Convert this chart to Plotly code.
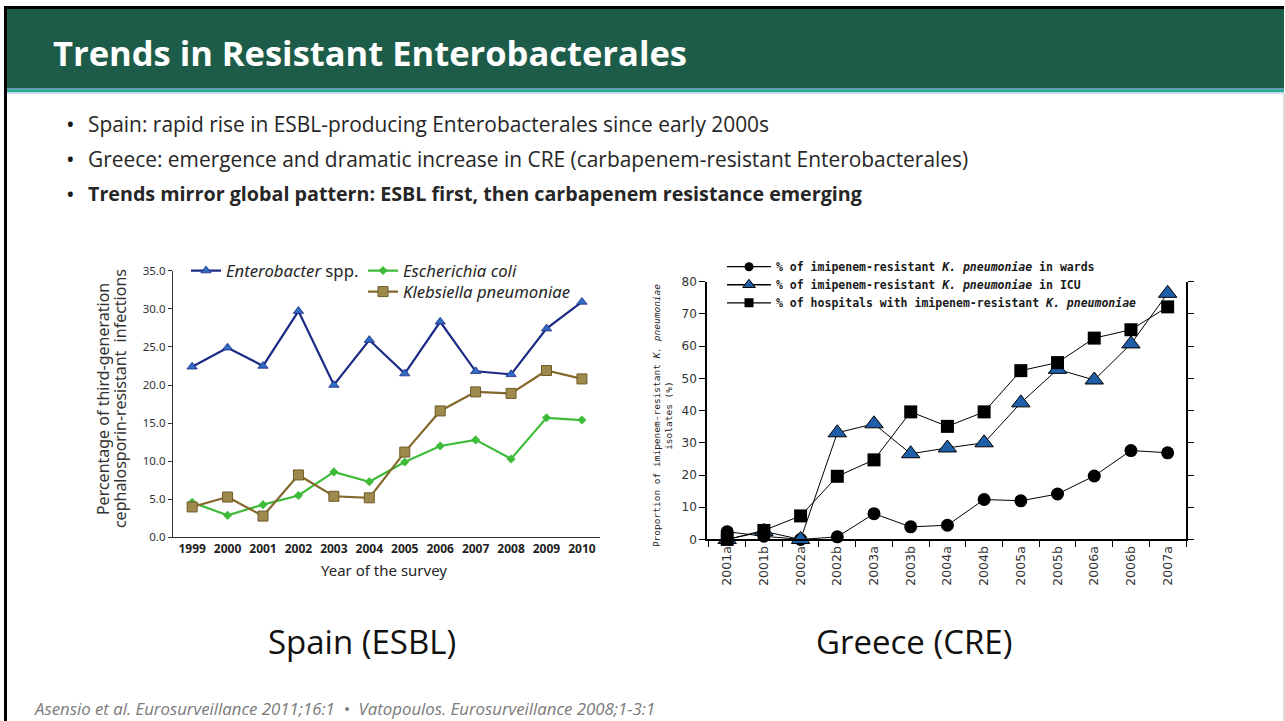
import plotly.graph_objects as go

# ---------------- data ----------------
years = [1999, 2000, 2001, 2002, 2003, 2004, 2005, 2006, 2007, 2008, 2009, 2010]
enterobacter = [22.4, 24.9, 22.5, 29.7, 20.0, 25.9, 21.5, 28.3, 21.8, 21.4, 27.4, 30.9]
ecoli = [4.6, 2.9, 4.3, 5.5, 8.6, 7.3, 9.9, 12.0, 12.8, 10.3, 15.7, 15.4]
klebsiella = [4.0, 5.3, 2.8, 8.2, 5.4, 5.2, 11.2, 16.6, 19.1, 18.9, 21.9, 20.8]

periods = ["2001a", "2001b", "2002a", "2002b", "2003a", "2003b", "2004a",
           "2004b", "2005a", "2005b", "2006a", "2006b", "2007a"]
wards = [2.4, 1.0, 0.0, 0.8, 8.0, 3.9, 4.4, 12.4, 12.0, 14.1, 19.7, 27.6, 26.9]
icu = [0.0, 2.5, 0.0, 33.1, 35.9, 26.6, 28.4, 30.0, 42.4, 52.8, 49.5, 60.7, 76.4]
hospitals = [0.0, 2.8, 7.3, 19.6, 24.7, 39.6, 35.1, 39.6, 52.4, 54.9, 62.5, 65.1, 72.2]

left_yticks = [0, 5, 10, 15, 20, 25, 30, 35]
right_yticks = [0, 10, 20, 30, 40, 50, 60, 70, 80]

bullets = [
    ("Spain: rapid rise in ESBL-producing Enterobacterales since early 2000s", False),
    ("Greece: emergence and dramatic increase in CRE (carbapenem-resistant Enterobacterales)", False),
    ("Trends mirror global pattern: ESBL first, then carbapenem resistance emerging", True),
]

W, H = 1285, 737
def px(x):
    return x / W
def py(y):
    # target screen row -> paper fraction (the viewer shows the page offset/squeezed vertically)
    yy = (y - 8) / 0.977
    return 1 - yy / H

left_font = "Noto Sans"
mono = "DejaVu Sans Mono"
slide_font = "Open Sans"

fig = go.Figure()

# ---------------- left chart (Spain) ----------------
left_series = [
    ("<i>Enterobacter</i> spp.", enterobacter, dict(color="#1c2a85", width=2.2),
     dict(symbol="triangle-up", size=9, color="#2f6cc2", line=dict(color="#1c2a85", width=0.8)), "legend", 270),
    ("<i>Escherichia coli</i>", ecoli, dict(color="#3fbb3a", width=2.2),
     dict(symbol="diamond", size=7, color="#3fbb3a"), "legend2", 270),
    ("<i>Klebsiella pneumoniae</i>", klebsiella, dict(color="#85692c", width=2.2),
     dict(symbol="square", size=10, color="#9e8a4c", line=dict(color="#6e5a28", width=1)), "legend3", 291),
]
for name, vals, ln, mk, lg, _ in left_series:
    fig.add_trace(go.Scatter(x=years, y=vals, name=name, mode="lines+markers", line=ln, marker=mk,
                             xaxis="x", yaxis="y", legend=lg, cliponaxis=False))

# ---------------- right chart (Greece) ----------------
right_series = [
    ("% of imipenem-resistant <i>K. pneumoniae</i> in wards", wards,
     dict(symbol="circle", size=13, color="black"), dict(symbol="circle", size=9, color="black"),
     "legend4", 266),
    ("% of imipenem-resistant <i>K. pneumoniae</i> in ICU", icu,
     dict(symbol="triangle-up", size=16, color="#1f5ea8", line=dict(color="black", width=1)),
     dict(symbol="triangle-up", size=11, color="#1f5ea8", line=dict(color="black", width=1)),
     "legend5", 284),
    ("% of hospitals with imipenem-resistant <i>K. pneumoniae</i>", hospitals,
     dict(symbol="square", size=13, color="black"), dict(symbol="square", size=9, color="black"),
     "legend6", 302),
]
for name, vals, mk, lgmk, lg, _ in right_series:
    fig.add_trace(go.Scatter(x=periods, y=vals, name=name, mode="lines+markers",
                             line=dict(color="black", width=1), marker=mk,
                             xaxis="x2", yaxis="y2", showlegend=False, cliponaxis=False))
    # legend entry with the smaller legend symbol (no data drawn)
    fig.add_trace(go.Scatter(x=[None], y=[None], name=name, mode="lines+markers",
                             line=dict(color="black", width=1.3), marker=lgmk,
                             xaxis="x2", yaxis="y2", legend=lg, showlegend=True))

legends = {}
for name, vals, ln, mk, lg, yrow in left_series:
    lx = 186 if lg == "legend" else 363
    legends[lg] = dict(x=px(lx), y=py(yrow), xanchor="left", yanchor="middle",
                       bgcolor="rgba(0,0,0,0)", itemwidth=30,
                       font=dict(family=left_font, size=16.7, color="#262626"))
for name, vals, mk, lgmk, lg, yrow in right_series:
    legends[lg] = dict(x=px(722), y=py(yrow), xanchor="left", yanchor="middle",
                       bgcolor="rgba(0,0,0,0)", itemwidth=44,
                       font=dict(family=mono, size=11.5, color="#1a1a1a", weight="bold"))

fig.update_layout(
    width=W, height=H, margin=dict(l=0, r=0, t=0, b=0),
    paper_bgcolor="white", plot_bgcolor="rgba(0,0,0,0)",
    font=dict(family=slide_font, color="#262626"),
    xaxis=dict(domain=[px(173), px(600)], anchor="y", range=[1998.46, 2010.51],
               tickmode="array", tickvals=years, ticks="", showgrid=False, zeroline=False,
               showline=True, linecolor="#333333", linewidth=1.3,
               tickfont=dict(family=left_font, size=12, color="#222222", weight="bold")),
    yaxis=dict(domain=[py(536), py(270)], anchor="x", range=[0, 35],
               tickmode="array", tickvals=left_yticks, tickformat=".1f",
               ticks="outside", ticklen=4, tickcolor="#333333", showgrid=False, zeroline=False,
               showline=True, linecolor="#333333", linewidth=1.3,
               tickfont=dict(family=left_font, size=11.5, color="#333333")),
    xaxis2=dict(domain=[px(707), px(1186)], anchor="y2", type="category",
                categoryorder="array", categoryarray=periods, range=[-0.55, 12.5],
                tickson="boundaries", ticks="outside", ticklen=6, tickcolor="black",
                showgrid=False, zeroline=False, showline=True, linecolor="black", linewidth=1.5,
                tickangle=-90, tickfont=dict(family="DejaVu Sans", size=12.5, color="#333333")),
    xaxis3=dict(domain=[px(707), px(1186)], anchor="y2", overlaying="x2",
                range=[-0.55, 12.5], tickmode="array",
                tickvals=[i - 0.5 for i in range(len(periods) + 1)],
                ticks="inside", ticklen=6, tickcolor="black", showticklabels=False,
                showgrid=False, zeroline=False, showline=False),
    yaxis2=dict(domain=[py(538), py(281)], anchor="x2", range=[0, 80],
                tickmode="array", tickvals=right_yticks,
                ticks="outside", ticklen=6, tickcolor="black", mirror="ticks",
                showgrid=False, zeroline=False, showline=True, linecolor="black", linewidth=1.5,
                tickfont=dict(family="DejaVu Sans", size=12, color="#333333")),
    yaxis3=dict(domain=[py(538), py(281)], anchor="x2", overlaying="y2", range=[0, 80],
                tickmode="array", tickvals=right_yticks,
                ticks="inside", ticklen=6, tickcolor="black", mirror="ticks",
                showticklabels=False, showgrid=False, zeroline=False, showline=False),
    showlegend=True,
    **legends,
)

# ---------------- slide decoration ----------------
def prect(x0, x1, y0, y1, color):
    return dict(type="rect", xref="paper", yref="paper", x0=px(x0), x1=px(x1), y0=py(y1), y1=py(y0),
                fillcolor=color, line=dict(width=0), layer="below")

shapes = [
    prect(4, 1284, 6, 9, "black"),
    prect(4, 1284, 9, 88, "#1e5c4a"),
    prect(4, 1284, 88, 89, "#4a78bd"),
    prect(4, 1284, 89, 92, "#2ba68c"),
    prect(4, 1284, 92, 93.5, "#bcd2ec"),
    prect(4, 7, 6, 730, "black"),
    dict(type="line", xref="paper", yref="paper", x0=px(1284), x1=px(1284), y0=py(730), y1=py(93),
         line=dict(color="#bbbbbb", width=1), layer="below"),
]

def pann(text, x, y, xanchor="left", size=14, family=slide_font, color="#262626", angle=0):
    return dict(text=text, xref="paper", yref="paper", x=px(x), y=py(y), xanchor=xanchor,
                yanchor="middle", showarrow=False, textangle=angle,
                font=dict(family=family, size=size, color=color))

ann = [pann("<b>Trends in Resistant Enterobacterales</b>", 51, 52, size=34.5, color="white")]
for i, (txt, bold) in enumerate(bullets):
    yy = 124 + i * 34.5
    ann.append(pann("•", 64, yy, size=23, color="#1a1a1a"))
    ann.append(pann(("<b>%s</b>" % txt) if bold else txt, 86, yy, size=(19.7 if bold else 20.9)))

ann.append(pann("Percentage of third-generation", 103, 398,
                xanchor="center", size=16, family=left_font, color="#333333", angle=-90))
ann.append(pann("cephalosporin-resistant  infections", 120, 398,
                xanchor="center", size=16, family=left_font, color="#333333", angle=-90))
ann.append(pann("Year of the survey", 384, 568, xanchor="center", size=15, family=left_font))
ann.append(pann("Proportion of imipenem-resistant <i>K. pneumoniae</i><br>isolates (%)", 662, 414,
                xanchor="center", size=9.5, family=mono, color="#222222", angle=-90))
ann.append(pann("Spain (ESBL)", 362, 640, xanchor="center", size=33, color="#111111"))
ann.append(pann("Greece (CRE)", 914, 640, xanchor="center", size=33, color="#111111"))
ann.append(pann("<i>Asensio et al. Eurosurveillance 2011;16:1  •  Vatopoulos. Eurosurveillance 2008;1-3:1</i>",
                32, 707, size=16.8, color="#7a7a7a"))

fig.update_layout(shapes=shapes, annotations=ann)

fig.write_html(
    "out.html",
    config={"displayModeBar": False},
    post_script=("document.documentElement.style.margin='0px';"
                 "document.body.style.margin='0px';document.body.style.overflow='hidden';"
                 "var d=document.getElementById('{plot_id}');"
                 "d.style.position='fixed';d.style.top='0px';d.style.left='0px';"),
)
